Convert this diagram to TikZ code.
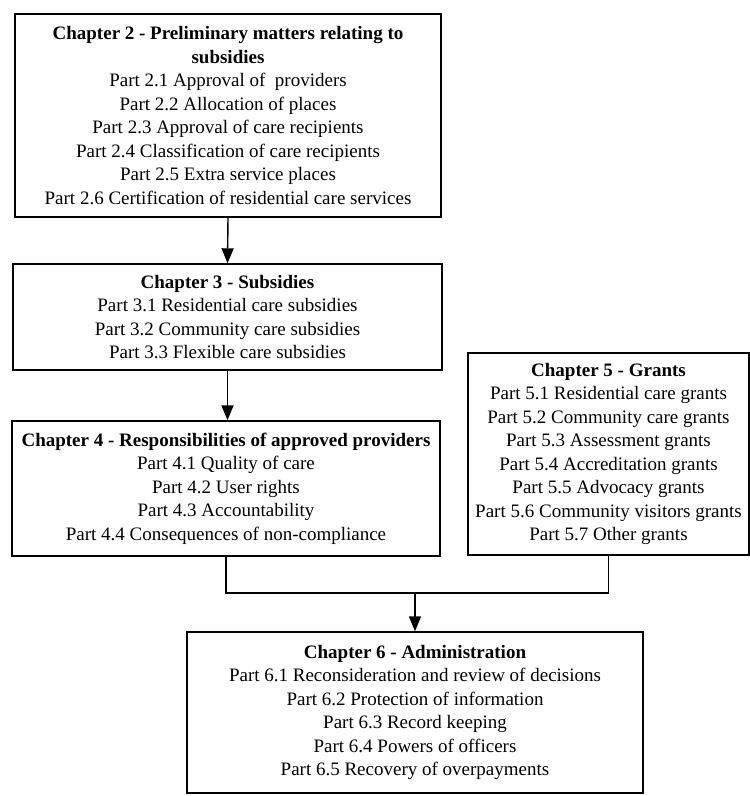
\documentclass[tikz,border=0pt]{standalone}
\usepackage{fontspec}
\setmainfont{Liberation Serif}
\usetikzlibrary{arrows.meta}
\begin{document}
\begin{tikzpicture}[x=1bp,y=-1bp,
  chapbox/.style={draw, line width=1.4bp, align=center, inner sep=2bp,
    font=\fontsize{19bp}{23.5bp}\selectfont},
  conn/.style={line width=1.4bp},
  arr/.style={conn, -{Triangle[width=12bp,length=15bp]}}]
\useasboundingbox (0,0) rectangle (750,796);
\node[chapbox, minimum width=426bp, minimum height=203bp] (c2) at (228,115.5)
  {\textbf{Chapter 2 - Preliminary matters relating to}\\ \textbf{subsidies}\\
   Part 2.1 Approval of\ \ providers\\ Part 2.2 Allocation of places\\
   Part 2.3 Approval of care recipients\\ Part 2.4 Classification of care recipients\\
   Part 2.5 Extra service places\\ Part 2.6 Certification of residential care services};
\node[chapbox, minimum width=429bp, minimum height=106bp] (c3) at (227.5,317)
  {\textbf{Chapter 3 - Subsidies}\\ Part 3.1 Residential care subsidies\\
   Part 3.2 Community care subsidies\\ Part 3.3 Flexible care subsidies};
\node[chapbox, minimum width=428bp, minimum height=135bp] (c4) at (226,488.5)
  {\textbf{Chapter 4 - Responsibilities of approved providers}\\ Part 4.1 Quality of care\\
   Part 4.2 User rights\\ Part 4.3 Accountability\\ Part 4.4 Consequences of non-compliance};
\node[chapbox, minimum width=281bp, minimum height=202bp] (c5) at (608.5,454)
  {\textbf{Chapter 5 - Grants}\\ Part 5.1 Residential care grants\\
   Part 5.2 Community care grants\\ Part 5.3 Assessment grants\\
   Part 5.4 Accreditation grants\\ Part 5.5 Advocacy grants\\
   Part 5.6 Community visitors grants\\ Part 5.7 Other grants};
\node[chapbox, minimum width=456bp, minimum height=161bp] (c6) at (415,712.5)
  {\textbf{Chapter 6 - Administration}\\ Part 6.1 Reconsideration and review of decisions\\
   Part 6.2 Protection of information\\ Part 6.3 Record keeping\\
   Part 6.4 Powers of officers\\ Part 6.5 Recovery of overpayments};
\coordinate (j) at (415,593);
\draw[arr] (c2.south) -- (c3.north);
\draw[arr] (c3.south) -- (c3.south |- c4.north);
\draw[conn] (c4.south) |- (j);
\draw[conn] (c5.south) |- (j);
\draw[arr] (j) -- (c6.north);
\end{tikzpicture}
\end{document}
